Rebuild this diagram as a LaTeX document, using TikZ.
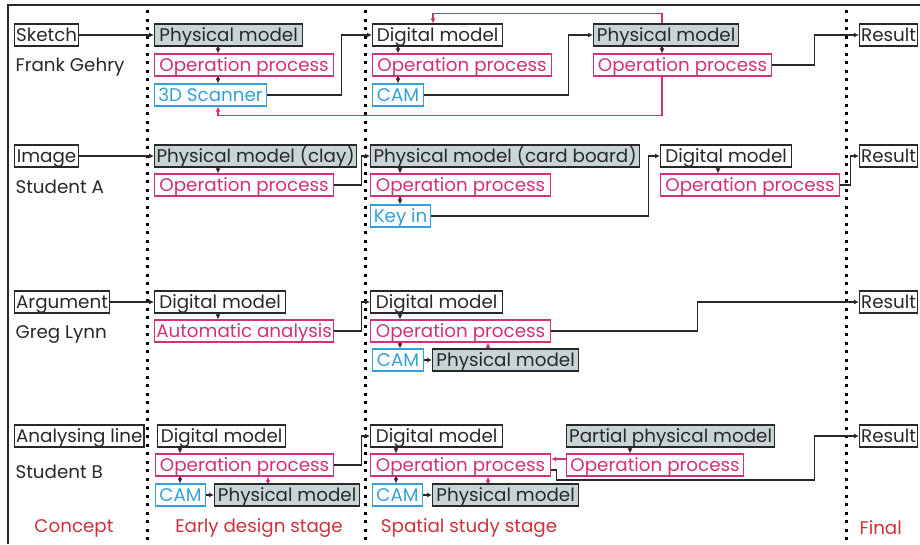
\documentclass[tikz,border=0pt]{standalone}
\usepackage{fontspec}
\setmainfont{Poppins}
\usetikzlibrary{arrows.meta}
\definecolor{boxfill}{RGB}{200,212,214}
\definecolor{mag}{RGB}{212,48,120}
\definecolor{cyanb}{RGB}{52,160,220}
\definecolor{labred}{RGB}{208,48,60}
\definecolor{ink}{RGB}{40,40,40}
\begin{document}
\begin{tikzpicture}[x=1pt,y=-1pt,
  font=\fontsize{18.3}{20}\selectfont,
  bx/.style={draw=ink, text=ink, line width=1.2pt, fill=white, anchor=west,
    inner xsep=1.5pt, inner ysep=0pt, minimum height=22pt,
    text height=15pt, text depth=3pt},
  gbx/.style={bx, fill=boxfill},
  mbx/.style={bx, draw=mag, text=mag},
  cbx/.style={bx, draw=cyanb, text=cyanb},
  arr/.style={draw=ink, line width=1.2pt, -{Latex[length=5pt,width=5pt]}},
  marr/.style={draw=mag, line width=1.2pt, -{Latex[length=5pt,width=5pt]}},
  lbl/.style={text=ink, anchor=west},
  stage/.style={text=labred},
  sepline/.style={draw=black, line width=3pt, dash pattern=on 3pt off 5.5pt}
]
\useasboundingbox (0,0) rectangle (920,544);
% frame and separators
\draw[ink, line width=2.8pt] (8,544) -- (8,5) -- (920,5);
\draw[sepline] (147,10) -- (147,544);
\draw[sepline] (365,10) -- (365,544);
\draw[sepline] (846,10) -- (846,544);

% column x coordinates
\coordinate (c180) at (180,0);
\coordinate (c218) at (218,0);
\coordinate (c268) at (268,0);
\coordinate (c396) at (396,0);
\coordinate (c398) at (398,0);
\coordinate (c400) at (400,0);
\coordinate (c433) at (433,0);
\coordinate (c488) at (488,0);
\coordinate (c630) at (630,0);
\coordinate (c662) at (662,0);
\coordinate (c718) at (718,0);

% ---------- Row 1: Frank Gehry
\node[bx, minimum width=64pt] (sk) at (14,35) {Sketch};
\node[lbl] (fg) at (12,67) {Frank Gehry};
\node[gbx, minimum width=148pt] (pm1) at (154,35) {Physical model};
\node[mbx, minimum width=179pt] (op1) at (154,65) {Operation process};
\node[cbx, minimum width=112pt] (scan) at (154,95) {3D Scanner};
\node[bx, minimum width=130pt] (dm2) at (372,35) {Digital model};
\node[mbx, minimum width=179pt] (op12) at (372,65) {Operation process};
\node[cbx, minimum width=51pt] (cam1) at (372,95) {CAM};
\node[gbx, minimum width=145pt] (pm2) at (593,35) {Physical model};
\node[mbx, minimum width=178pt] (op2) at (593,65) {Operation process};
\node[bx, minimum width=58pt] (res1) at (859,35) {Result};

\draw[arr] (sk.east) -- (pm1.west);
\draw[arr] (pm1.south -| c218) -- (op1.north -| c218);
\draw[arr] (op1.south -| c218) -- (scan.north -| c218);
\draw[arr] (scan.east) -- ++(74,0) |- (dm2.west);
\draw[arr] (dm2.south -| c398) -- (op12.north -| c398);
\draw[arr] (op12.south -| c398) -- (cam1.north -| c398);
\draw[arr] (cam1.east) -- ++(144,0) |- (pm2.west);
\draw[arr] (pm2.south -| c662) -- (op2.north -| c662);
\draw[arr] (op2.east) -- ++(42,0) |- (res1.west);
\draw[marr] (op2.south -| c662) -- ++(0,39) -| (scan.south -| c218);
\draw[marr] (pm2.north -| c662) -- ++(0,-10) -| (dm2.north -| c433);

% ---------- Row 2: Student A
\node[bx, minimum width=64pt] (img) at (14,156) {Image};
\node[lbl] (sa) at (12,187) {Student A};
\node[gbx, minimum width=202pt] (pmclay) at (154,156) {Physical model (clay)};
\node[mbx, minimum width=179pt] (opA1) at (154,185) {Operation process};
\node[gbx, minimum width=269pt] (pmcard) at (370,156) {Physical model (card board)};
\node[mbx, minimum width=180pt] (opA2) at (370,185) {Operation process};
\node[cbx, minimum width=60pt] (key) at (370,216) {Key in};
\node[bx, minimum width=131pt] (dmA) at (660,156) {Digital model};
\node[mbx, minimum width=179pt] (opA3) at (660,185) {Operation process};
\node[bx, minimum width=58pt] (resA) at (859,156) {Result};

\draw[arr] (img.east) -- (pmclay.west);
\draw[arr] (pmclay.south -| c218) -- (opA1.north -| c218);
\draw[arr] (opA1.east) -- ++(27,0) |- (pmcard.west);
\draw[arr] (pmcard.south -| c400) -- (opA2.north -| c400);
\draw[arr] (opA2.south -| c400) -- (key.north -| c400);
\draw[arr] (key.east) -- ++(217,0) |- (dmA.west);
\draw[arr] (dmA.south -| c718) -- (opA3.north -| c718);
\draw[arr] (opA3.east) -- ++(10,0) |- (resA.west);

% ---------- Row 3: Greg Lynn
\node[bx, minimum width=94pt] (arg) at (14,302) {Argument};
\node[lbl] (gl) at (12,335) {Greg Lynn};
\node[bx, minimum width=131pt] (dmG1) at (154,302) {Digital model};
\node[mbx, minimum width=179pt] (auto) at (154,331) {Automatic analysis};
\node[bx, minimum width=132pt] (dmG2) at (370,302) {Digital model};
\node[mbx, minimum width=180pt] (opG) at (370,331) {Operation process};
\node[cbx, minimum width=51pt] (camG) at (372,360) {CAM};
\node[gbx, minimum width=146pt] (pmG) at (432,360) {Physical model};
\node[bx, minimum width=58pt] (resG) at (859,302) {Result};

\draw[arr] (arg.east) -- (dmG1.west);
\draw[arr] (dmG1.south -| c218) -- (auto.north -| c218);
\draw[arr] (auto.east) -- ++(27,0) |- (dmG2.west);
\draw[arr] (dmG2.south -| c400) -- (opG.north -| c400);
\draw[arr] (opG.south -| c400) -- (camG.north -| c400);
\draw[arr] (camG.east) -- (pmG.west);
\draw[marr] (pmG.north -| c488) -- (opG.south -| c488);
\draw[arr] (opG.east) -- ++(146,0) |- (resG.west);

% ---------- Row 4: Student B
\node[bx, minimum width=129pt] (ana) at (14,436) {Analysing line};
\node[lbl] (sb) at (12,472) {Student B};
\node[bx, minimum width=128pt] (dmB1) at (157,436) {Digital model};
\node[mbx, minimum width=178pt] (opB1) at (155,465) {Operation process};
\node[cbx, minimum width=50pt] (camB1) at (155,495) {CAM};
\node[gbx, minimum width=145pt] (pmB1) at (214,495) {Physical model};
\node[bx, minimum width=132pt] (dmB2) at (370,436) {Digital model};
\node[mbx, minimum width=180pt] (opB2) at (370,465) {Operation process};
\node[cbx, minimum width=50pt] (camB2) at (372,495) {CAM};
\node[gbx, minimum width=146pt] (pmB2) at (432,495) {Physical model};
\node[gbx, minimum width=208pt] (part) at (566,436) {Partial physical model};
\node[mbx, minimum width=177pt] (opB3) at (566,465) {Operation process};
\node[bx, minimum width=58pt] (resB) at (859,436) {Result};

\draw[arr] (dmB1.south -| c180) -- (opB1.north -| c180);
\draw[arr] (opB1.south -| c180) -- (camB1.north -| c180);
\draw[arr] (camB1.east) -- (pmB1.west);
\draw[marr] (pmB1.north -| c268) -- (opB1.south -| c268);
\draw[arr] (opB1.east) -- ++(27,0) |- (dmB2.west);
\draw[arr] (dmB2.south -| c396) -- (opB2.north -| c396);
\draw[arr] (opB2.south -| c396) -- (camB2.north -| c396);
\draw[arr] (camB2.east) -- (pmB2.west);
\draw[marr] (pmB2.north -| c488) -- (opB2.south -| c488);
\draw[arr] (part.south -| c630) -- (opB3.north -| c630);
\draw[marr] ([yshift=6pt]opB3.west) -- ([yshift=6pt]opB2.east);
\draw[arr] ([yshift=-5pt]opB2.east) -- ++(5,0) -- ++(0,10) -- ++(258,0) |- (resB.west);

% ---------- stage labels
\node[stage] (s1) at (74,528) {Concept};
\node[stage] (s2) at (259,528) {Early design stage};
\node[stage] (s3) at (469,528) {Spatial study stage};
\node[stage, anchor=west] (s4) at (856,528) {Final};
\end{tikzpicture}
\end{document}
